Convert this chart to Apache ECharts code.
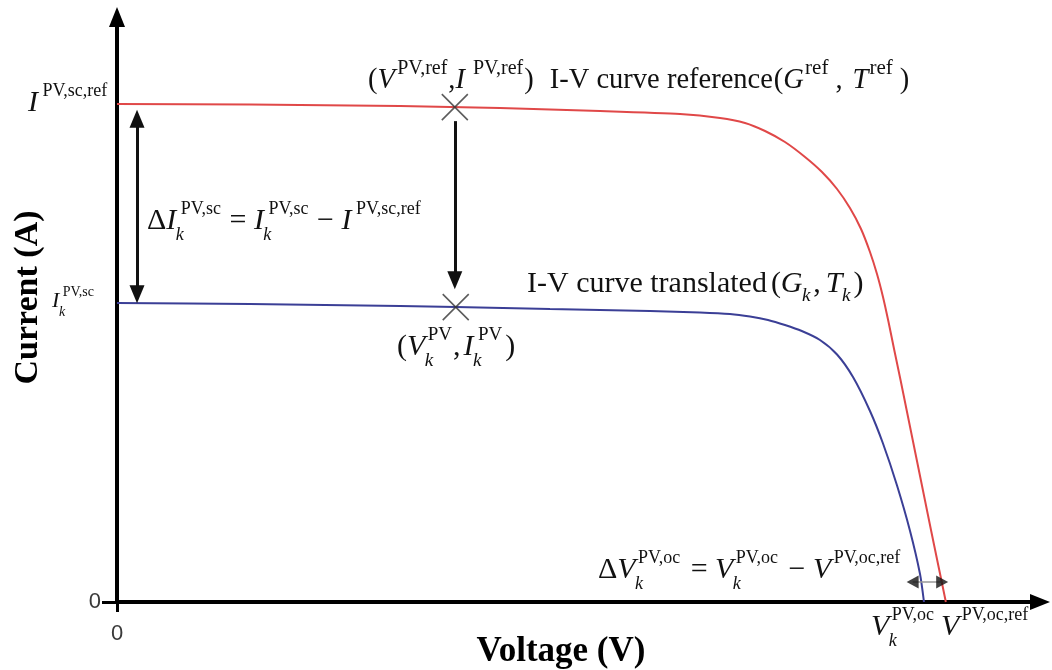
<!DOCTYPE html>
<html><head><meta charset="utf-8">
<script src="https://cdn.jsdelivr.net/npm/echarts@6/dist/echarts.min.js"></script>
<style>html,body{margin:0;padding:0;background:#fff}#c{width:1052px;height:670px}</style>
</head><body><div id="c"></div>
<script>
// ---- data (arbitrary units, schematic) ----
const refVoltage = [0,14.41,30.66,41.50,52.33,61.00,65.33,68.04,70.21,72.37,74.54,76.38,78.01,79.41,80.61,81.58,82.34,82.99,83.59,84.21,84.89,85.55,86.21,86.87,87.53,88.19,88.86,89.31,89.80];
const refCurrent = [85.13,85.04,84.79,84.44,83.93,83.42,82.74,81.88,80.51,78.63,76.07,73.50,70.60,67.35,63.76,59.83,56.07,52.14,47.86,43.08,37.95,32.82,27.69,22.56,17.44,12.31,7.18,3.76,0];
const trVoltage  = [0,14.41,30.66,36.73,46.91,57.75,63.16,66.41,68.58,70.53,72.37,74.19,76.16,78.01,79.74,81.58,82.99,84.51,85.92,87.00,87.43];
const trCurrent  = [51.11,50.94,50.60,50.43,50.09,49.74,49.49,49.23,48.80,48.21,47.35,46.32,44.79,42.31,38.46,32.65,27.09,19.91,12.14,4.79,0];
const markerVoltage = [36.6, 36.7];
const markerCurrent = [84.6, 50.4];
const tickValues = [0];
// arrow anchors (data coords)
const deltaIArrow = [[2.17, 82.6], [2.17, 52.6]];
const shiftArrow  = [[36.6, 82.2], [36.6, 55.0]];
const deltaVArrow = [[86.2, 3.4], [89.4, 3.4]];

const SERIF = '"Liberation Serif", "Times New Roman", serif';
const ctx = document.createElement('canvas').getContext('2d');
function tw(s, size, it) {
  ctx.font = (it ? 'italic ' : '') + size + 'px "Liberation Serif"';
  return ctx.measureText(s).width;
}
function T(x, yb, s, size, it) {
  return { type: 'text', x: x, y: yb - 0.34 * size, silent: true, z: 10,
    style: { text: s, fontFamily: SERIF, fontSize: size, fontStyle: it ? 'italic' : 'normal',
      fill: '#111', align: 'left', verticalAlign: 'middle' } };
}
const ITC = { I: 0.15, V: 0.08, G: 0.04, T: 0.04 };
function mathLabel(L) {
  const els = []; let x = L.x; let prev = null; const B = L.B;
  L.t.forEach(t => {
    if (t.g != null) { x += t.g; return; }
    if (t.n != null || t.i != null) {
      const it = t.i != null; const s = it ? t.i : t.n;
      els.push(T(x, L.y, s, B, it));
      x += tw(s, B, it); prev = it ? s : null; return;
    }
    const sz = t.S || L.S;
    const both = t.p && t.b;
    let wp = 0, wb = 0;
    if (t.p) {
      const dp = t.dp != null ? t.dp : (ITC[prev] || 0.05) * B;
      els.push(T(x + dp, L.y - 0.52 * B, t.p, sz, false));
      wp = dp + tw(t.p, sz, false);
    }
    if (t.b) {
      const db = -0.02 * B;
      els.push(T(x + db, L.y + (both ? 0.36 : 0.28) * B, t.b, sz, true));
      wb = db + tw(t.b, sz, true);
    }
    x += Math.max(wp, wb) + 1; prev = null;
  });
  return els;
}
const labels = [
  { x: 28, y: 113, B: 30, S: 18, t: [{ i: 'I' }, { p: 'PV,sc,ref' }] },
  { x: 52, y: 309, B: 22, S: 14, t: [{ i: 'I' }, { p: 'PV,sc', b: 'k' }] },
  { x: 147, y: 231, B: 30, S: 18, t: [{ n: 'Δ' }, { i: 'I' }, { p: 'PV,sc', b: 'k' }, { n: ' = ' }, { i: 'I' }, { p: 'PV,sc', b: 'k' }, { n: ' − ' }, { i: 'I' }, { p: 'PV,sc,ref' }] },
  { x: 368, y: 90, B: 28.5, S: 20, t: [{ n: '(' }, { i: 'V' }, { p: 'PV,ref' }, { n: ',' }, { i: 'I' }, { p: 'PV,ref', dp: 8 }, { n: ')' }, { g: 9 }, { n: ' I-V curve reference' }, { g: 1 }, { n: '(' }, { i: 'G' }, { p: 'ref', S: 21 }, { g: 6 }, { n: ',' }, { g: 10 }, { i: 'T' }, { p: 'ref', S: 21 }, { g: 6 }, { n: ')' }] },
  { x: 527, y: 294, B: 30, S: 19, t: [{ n: 'I-V curve translated' }, { g: 4 }, { n: '(' }, { i: 'G' }, { b: 'k' }, { g: 2 }, { n: ',' }, { g: 5 }, { i: 'T' }, { b: 'k' }, { g: 2 }, { n: ')' }] },
  { x: 397, y: 357, B: 30, S: 19, t: [{ n: '(' }, { i: 'V' }, { p: 'PV', b: 'k' }, { n: ',' }, { g: 3 }, { i: 'I' }, { p: 'PV', b: 'k' }, { g: 2 }, { n: ')' }] },
  { x: 598, y: 580, B: 30, S: 18, t: [{ n: 'Δ' }, { i: 'V' }, { p: 'PV,oc', b: 'k' }, { g: 2 }, { n: ' = ' }, { i: 'V' }, { p: 'PV,oc', b: 'k' }, { g: 2 }, { n: ' − ' }, { i: 'V' }, { p: 'PV,oc,ref' }] },
  { x: 871, y: 637, B: 30, S: 18, t: [{ i: 'V' }, { p: 'PV,oc', b: 'k' }, { g: 6 }, { i: 'V' }, { p: 'PV,oc,ref' }] }
];
let graphicEls = [];
labels.forEach(L => { graphicEls = graphicEls.concat(mathLabel(L)); });

const zip = (a, b) => a.map((v, i) => [v, b[i]]);
const chart = echarts.init(document.getElementById('c'), null, { renderer: 'canvas' });
const axisCommon = {
  type: 'value', min: 0, max: 100, splitLine: { show: false }, nameMoveOverlap: false,
  axisLine: { show: true, onZero: false, symbol: ['none', 'triangle'], symbolSize: [16, 20], lineStyle: { color: '#000', width: 4 } },
  axisTick: { show: true, customValues: tickValues, lineStyle: { color: '#000', width: 3 } },
  axisLabel: { show: true, customValues: tickValues, color: '#3a3a3a', fontSize: 22, fontFamily: '"Liberation Sans", Arial, sans-serif' },
  nameTextStyle: { fontFamily: SERIF, fontWeight: 'bold', color: '#000' }
};
chart.setOption({
  animation: false,
  backgroundColor: '#fff',
  grid: { left: 117, right: 12, top: 17, bottom: 68, containLabel: false, outerBoundsMode: 'none' },
  xAxis: echarts.util.merge({
    name: 'Voltage (V)', nameLocation: 'middle', nameGap: 32,
    nameTextStyle: { fontSize: 35, padding: [0, 35, 0, 0] },
    axisTick: { length: 10 }, axisLabel: { margin: 21 }
  }, axisCommon),
  yAxis: echarts.util.merge({
    name: 'Current (A)', nameLocation: 'middle', nameGap: 72,
    nameTextStyle: { fontSize: 34, padding: [0, 0, 0, 24] },
    axisTick: { length: 15 }, axisLabel: { margin: 16, padding: [4, 0, 0, 0] }
  }, axisCommon),
  series: [
    { name: 'I-V curve reference', type: 'line', data: zip(refVoltage, refCurrent), smooth: 0.2, showSymbol: false,
      lineStyle: { color: '#e04848', width: 2 }, z: 3 },
    { name: 'I-V curve translated', type: 'line', data: zip(trVoltage, trCurrent), smooth: 0.25, showSymbol: false,
      lineStyle: { color: '#3b3f96', width: 2 }, z: 3 },
    { name: 'operating points', type: 'scatter', data: zip(markerVoltage, markerCurrent),
      symbol: 'path://M0,0L24,24M24,0L0,24', symbolSize: 26,
      itemStyle: { color: 'rgba(0,0,0,0)', borderColor: '#333', borderWidth: 1.6 }, z: 5, silent: true },
    { name: 'arrows', type: 'line', data: [], silent: true,
      markLine: { silent: true, animation: false, label: { show: false },
        lineStyle: { color: '#111', width: 3, type: 'solid' },
        data: [
          [{ coord: deltaIArrow[0], symbol: 'triangle', symbolSize: [15, 18] }, { coord: deltaIArrow[1], symbol: 'triangle', symbolSize: [15, 18] }],
          [{ coord: shiftArrow[0], symbol: 'none' }, { coord: shiftArrow[1], symbol: 'triangle', symbolSize: [15, 18] }],
          [{ coord: deltaVArrow[0], symbol: 'none', lineStyle: { color: '#999', width: 1.5 } }, { coord: deltaVArrow[1], symbol: 'none' }]
        ] } },
    { name: 'dV heads', type: 'scatter', silent: true, z: 6, symbol: 'triangle', symbolSize: [13, 12],
      itemStyle: { color: '#111' },
      data: [ { value: deltaVArrow[0], symbolRotate: 90 }, { value: deltaVArrow[1], symbolRotate: -90 } ] }
  ],
  graphic: { elements: graphicEls }
});
</script></body></html>
